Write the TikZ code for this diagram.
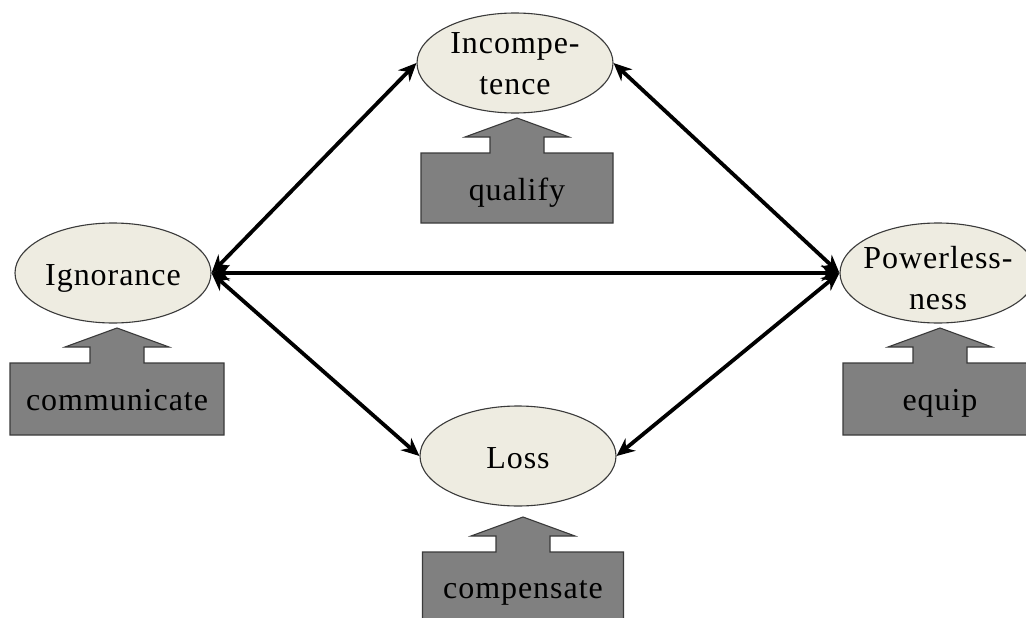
\documentclass[tikz,border=0pt]{standalone}
\usepackage{fontspec}
\setmainfont[LetterSpace=3]{Liberation Serif}
\usetikzlibrary{arrows.meta,shapes.geometric}

\definecolor{ellfill}{HTML}{EEECE1}
\definecolor{boxfill}{HTML}{808080}
\definecolor{edgegray}{HTML}{3A3A3A}

% text set inside an ellipse of fixed size; #1 = drop of first baseline below centre
\newcommand{\elltext}[2]{%
  \raisebox{-#1}[0pt][0pt]{\makebox[0pt]{\begin{tabular}[t]{@{}c@{}}#2\end{tabular}}}}

\tikzset{
  ell/.style={ellipse, draw=edgegray, line width=1.1pt, fill=ellfill,
    minimum width=196pt, minimum height=100pt, inner sep=0pt,
    font=\fontsize{32}{41}\selectfont},
  lbl/.style={font=\fontsize{32}{40}\selectfont, anchor=base, inner sep=0pt},
  link/.style={line width=3.8pt, black,
    {Stealth[length=18pt,width=16pt]}-{Stealth[length=18pt,width=16pt]}},
  % up-pointing arrow sitting on a box; #1 = half width of box, #2 = box height
  pics/upbox/.style 2 args={code={
    \draw[draw=edgegray, line width=1.1pt, fill=boxfill, line join=miter]
      (0,0) -- (52,19) -- (27,19) -- (27,35) -- (#1,35) -- (#1,35+#2)
      -- (-#1,35+#2) -- (-#1,35) -- (-27,35) -- (-27,19) -- (-52,19) -- cycle;
  }}
}

\begin{document}
\begin{tikzpicture}[x=1pt,y=-1pt]
  \useasboundingbox (0,0) rectangle (1026,618);
  \clip (0,0) rectangle (1026,618);

  % concept ellipses
  \node[ell] (inc)  at (515,63)  {\elltext{-9pt}{Incompe-\\tence}};
  \node[ell] (ign)  at (113,273) {\elltext{12pt}{Ignorance}};
  \node[ell] (pow)  at (938,273) {\elltext{-5pt}{Powerless-\\ness}};
  \node[ell] (loss) at (518,456) {\elltext{12pt}{Loss}};

  % remedy boxes pushing up into each ellipse
  \pic at (517,118) {upbox={96}{70}};
  \pic at (117,328) {upbox={107}{72}};
  \pic at (940,328) {upbox={97}{72}};
  \pic at (523,517) {upbox={100.5}{130}};

  \node[lbl] (qualify)     at (517,200) {qualify};
  \node[lbl] (communicate) at (117,410) {communicate};
  \node[lbl] (equip)       at (940,410) {equip};
  \node[lbl] (compensate)  at (523,598) {compensate};

  % two-way links between the concepts
  \draw[link] (ign.east) -- (inc.west);
  \draw[link] (ign.east) -- (pow.west);
  \draw[link] (ign.east) -- (loss.west);
  \draw[link] (pow.west) -- (inc.east);
  \draw[link] (pow.west) -- (loss.east);
\end{tikzpicture}
\end{document}
